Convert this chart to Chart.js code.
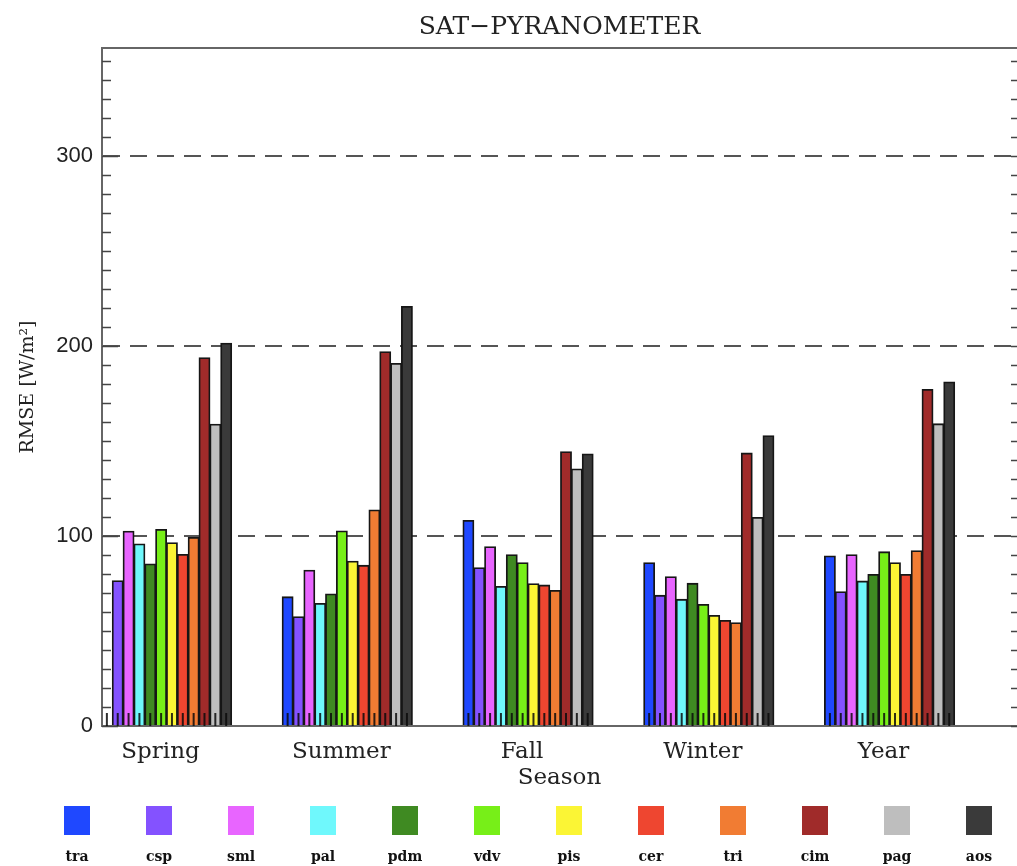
<!DOCTYPE html>
<html>
<head>
<meta charset="utf-8">
<script src="https://cdn.jsdelivr.net/npm/chart.js@4.4.0/dist/chart.umd.min.js"></script>
<style>
  html, body { margin: 0; padding: 0; background: #fff; }
  #wrap { width: 1017px; height: 866px; }
</style>
</head>
<body>
<div id="wrap"><canvas id="rmseChart" width="1017" height="866"></canvas></div>
<script>
const seasons = ['Spring', 'Summer', 'Fall', 'Winter', 'Year'];
const sites = ['tra', 'csp', 'sml', 'pal', 'pdm', 'vdv', 'pis', 'cer', 'tri', 'cim', 'pag', 'aos'];

// RMSE per site, one value per season (Spring, Summer, Fall, Winter, Year)
const tra = [null, 68.0, 108.2, 86.0, 89.5];
const csp = [76.5, 57.5, 83.3, 68.8, 70.7];
const sml = [102.6, 82.0, 94.4, 78.6, 90.2];
const pal = [95.8, 64.5, 73.5, 66.7, 76.3];
const pdm = [85.3, 69.5, 90.2, 75.1, 79.8];
const vdv = [103.5, 102.7, 86.0, 64.0, 91.7];
const pis = [96.5, 86.8, 74.9, 58.2, 86.0];
const cer = [90.3, 84.6, 74.2, 55.6, 79.8];
const tri = [99.3, 113.8, 71.4, 54.4, 92.3];
const cim = [193.9, 197.1, 144.4, 143.7, 177.2];
const pag = [158.9, 190.9, 135.3, 109.8, 159.1];
const aos = [201.6, 220.9, 143.2, 152.8, 181.1];
const series = [tra, csp, sml, pal, pdm, vdv, pis, cer, tri, cim, pag, aos];

const colors = ['#1f48ff', '#8452ff', '#e865ff', '#6ff8fc', '#3f8a22', '#77ef18',
                '#fbf535', '#ee4630', '#f17c33', '#a02b2a', '#bebebe', '#3a3a3a'];

const serif = "'DejaVu Serif', serif";

const framePlugin = {
  id: 'frame',
  afterDatasetsDraw(chart) {
    const ctx = chart.ctx;
    const a = chart.chartArea;
    const y = chart.scales.y;
    ctx.save();
    // top frame line
    ctx.strokeStyle = '#666';
    ctx.lineWidth = 2;
    ctx.beginPath();
    ctx.moveTo(a.left, a.top);
    ctx.lineTo(a.right, a.top);
    ctx.stroke();
    // minor ticks on left and right axis
    ctx.strokeStyle = '#444';
    ctx.lineWidth = 1.5;
    for (let v = 0; v <= y.max; v += 10) {
      const py = Math.round(y.getPixelForValue(v)) + 0.5;
      const len = v % 100 === 0 ? 16 : 9;
      ctx.beginPath();
      ctx.moveTo(a.left, py);
      ctx.lineTo(a.left + len, py);
      ctx.moveTo(a.right, py);
      ctx.lineTo(a.right - 6, py);
      ctx.stroke();
    }
    // small ticks at the bottom of every bar
    ctx.strokeStyle = 'rgba(10,10,10,0.85)';
    ctx.lineWidth = 2;
    chart.data.datasets.forEach((ds, i) => {
      chart.getDatasetMeta(i).data.forEach(bar => {
        if (!isFinite(bar.x)) return;
        ctx.beginPath();
        ctx.moveTo(bar.x, a.bottom);
        ctx.lineTo(bar.x, a.bottom - 13);
        ctx.stroke();
      });
    });
    ctx.restore();
  },
  afterDraw(chart) {
    const ctx = chart.ctx;
    ctx.save();
    ctx.textAlign = 'center';
    ctx.textBaseline = 'middle';
    ctx.font = "bold 14px " + serif;
    chart.data.datasets.forEach((ds, i) => {
      const x = 64 + 82 * i;
      ctx.fillStyle = ds.backgroundColor;
      ctx.fillRect(x, 806, 26, 29);
      ctx.fillStyle = '#111';
      ctx.fillText(ds.label, x + 13, 857);
    });
    ctx.restore();
  }
};

new Chart(document.getElementById('rmseChart'), {
  type: 'bar',
  data: {
    datasets: sites.map((name, i) => ({
      label: name,
      data: series[i].map((v, k) => ({ x: k, y: v })),
      backgroundColor: colors[i],
      borderColor: '#161616',
      borderWidth: 1.8,
      inflateAmount: 0.5,
      categoryPercentage: 0.72,
      barPercentage: 1.0
    }))
  },
  options: {
    responsive: false,
    animation: false,
    layout: { padding: 0 },
    plugins: {
      legend: { display: false },
      tooltip: { enabled: false },
      title: {
        display: true,
        text: 'SAT\u2212PYRANOMETER',
        fullSize: false,
        color: '#222',
        font: { family: serif, size: 25, weight: 'normal' },
        padding: { top: 12, bottom: 6 }
      }
    },
    scales: {
      x: {
        type: 'linear',
        min: -0.357,
        max: 4.705,
        offset: false,
        afterFit: s => { s.height = 140; },
        grid: { display: false, drawTicks: false, offset: false },
        border: { display: true, color: '#666', width: 2 },
        ticks: {
          stepSize: 1,
          includeBounds: false,
          padding: 12,
          labelOffset: -6,
          color: '#222',
          font: { family: serif, size: 23 },
          callback: v => seasons[v] ?? ''
        },
        title: {
          display: true,
          text: 'Season',
          color: '#222',
          font: { family: serif, size: 23 },
          padding: { top: 0, bottom: 74 }
        }
      },
      y: {
        min: 0,
        max: 357,
        afterFit: s => { s.width = 102; },
        grid: {
          drawTicks: false,
          lineWidth: 2,
          color: c => (c.tick.value > 0 && c.tick.value % 100 === 0) ? '#555' : 'rgba(0,0,0,0)'
        },
        border: { display: true, color: '#666', width: 2, dash: [17, 10] },
        ticks: {
          stepSize: 10,
          includeBounds: false,
          padding: 9,
          color: '#222',
          font: { family: "'Liberation Sans', Arial, sans-serif", size: 22 },
          callback: v => (v % 100 === 0 ? String(v) : '')
        },
        title: {
          display: true,
          text: 'RMSE [W/m\u00b2]',
          color: '#222',
          font: { family: serif, size: 19 },
          padding: { top: 17, bottom: 0 }
        }
      }
    }
  },
  plugins: [framePlugin]
});
</script>
</body>
</html>
